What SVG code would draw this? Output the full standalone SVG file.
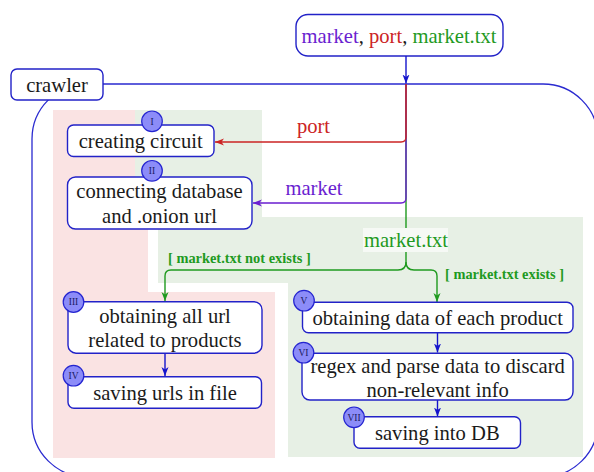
<svg xmlns="http://www.w3.org/2000/svg" width="594" height="472" viewBox="0 0 594 472">
<defs>
<style>
.t{font-family:"Liberation Serif","Times New Roman",serif;font-size:20.6px;fill:#1a1a1a;text-anchor:middle}
.node{fill:#ffffff;stroke:#2222c8;stroke-width:1.4}
.badge{fill:#8c8cf8;stroke:#2424d0;stroke-width:1.2}
.bt{font-family:"Liberation Serif","Times New Roman",serif;font-size:9.5px;fill:#1a1a60;text-anchor:middle}
.cond{font-family:"Liberation Serif","Times New Roman",serif;font-size:14.4px;font-weight:bold;fill:#1f9a1f}
.e{fill:none;stroke-width:1.4}
</style>
<marker id="ab" markerUnits="userSpaceOnUse" markerWidth="10" markerHeight="8" refX="9" refY="3.5" orient="auto"><path d="M0,0 L9,3.5 L0,7 L2.5,3.5 z" fill="#1414cc"/></marker>
<marker id="ar" markerUnits="userSpaceOnUse" markerWidth="10" markerHeight="8" refX="9" refY="3.5" orient="auto"><path d="M0,0 L9,3.5 L0,7 L2.5,3.5 z" fill="#cc2424"/></marker>
<marker id="ap" markerUnits="userSpaceOnUse" markerWidth="10" markerHeight="8" refX="9" refY="3.5" orient="auto"><path d="M0,0 L9,3.5 L0,7 L2.5,3.5 z" fill="#6a1ed0"/></marker>
<marker id="ag" markerUnits="userSpaceOnUse" markerWidth="10" markerHeight="8" refX="9" refY="3.5" orient="auto"><path d="M0,0 L9,3.5 L0,7 L2.5,3.5 z" fill="#1f9a1f"/></marker>
</defs>
<rect width="594" height="472" fill="#ffffff"/>

<g id="regions">
<rect x="53" y="110" width="95" height="348" fill="#fae3e3"/>
<rect x="53" y="292" width="222" height="166" fill="#fae3e3"/>
<rect x="135" y="110" width="127" height="108" fill="#e7f0e5"/>
<path d="M158,217 H583 V457 H288 V283 H158 Z" fill="#e7f0e5"/>
</g>

<g id="crawler">
<rect x="32" y="84" width="566" height="393" rx="55" ry="55" fill="none" stroke="#2a2ad0" stroke-width="1.3"/>
<rect x="11" y="69" width="92" height="31" rx="6" fill="#ffffff" stroke="#2222c8" stroke-width="1.4"/>
<text class="t" x="57" y="92">crawler</text>
</g>

<g id="input">
<rect x="296" y="14.5" width="207" height="41.5" rx="12" fill="#ffffff" stroke="#2222c8" stroke-width="1.4"/>
<text class="t" x="399" y="43"><tspan fill="#6a1ed0">market</tspan>, <tspan fill="#cc2424">port</tspan>, <tspan fill="#1f9a1f">market.txt</tspan></text>
</g>

<g id="connectors">
<path class="e" d="M406,56 V83.5" stroke="#1414cc" marker-end="url(#ab)"/>
<path class="e" d="M406,84 V262 Q406,270 398,270 H171 Q165,270 165,276 V301" stroke="#1f9a1f" marker-end="url(#ag)"/>
<path class="e" d="M406,262 Q406,270 414,270 H431 Q437,270 437,276 V302" stroke="#1f9a1f" marker-end="url(#ag)"/>
<path class="e" d="M406,84 V198 Q406,203 401,203 H253" stroke="#6a1ed0" marker-end="url(#ap)"/>
<path class="e" d="M406,84 V137 Q406,142 401,142 H215" stroke="#cc2424" marker-end="url(#ar)"/>
<path class="e" d="M165,353 V376" stroke="#1414cc" marker-end="url(#ab)"/>
<path class="e" d="M437.5,333 V352.5" stroke="#1414cc" marker-end="url(#ab)"/>
<path class="e" d="M437.5,400 V416.5" stroke="#1414cc" marker-end="url(#ab)"/>
<text x="313.5" y="133.3" font-family="Liberation Serif, Times New Roman, serif" font-size="20.6" fill="#cc2424" text-anchor="middle">port</text>
<text x="314" y="195" font-family="Liberation Serif, Times New Roman, serif" font-size="20.6" fill="#6a1ed0" text-anchor="middle">market</text>
<rect x="363" y="228" width="85" height="24" fill="#f6f9f5"/>
<text x="406" y="246.5" font-family="Liberation Serif, Times New Roman, serif" font-size="20.6" fill="#1f9a1f" text-anchor="middle">market.txt</text>
<text class="cond" x="168" y="263.3">[ market.txt not exists ]</text>
<text class="cond" x="445" y="279">[ market.txt exists ]</text>
</g>

<g id="node1">
<rect class="node" x="67.5" y="125" width="146.5" height="31.5" rx="6"/>
<text class="t" x="140.7" y="148.3">creating circuit</text>
<circle class="badge" cx="152" cy="121.3" r="10.3"/>
<text class="bt" x="152" y="124.6">I</text>
</g>

<g id="node2">
<rect class="node" x="67.5" y="177" width="184.5" height="52" rx="8"/>
<text class="t" x="159.5" y="198.3">connecting database</text>
<text class="t" x="159.5" y="222.7">and .onion url</text>
<circle class="badge" cx="152" cy="170.8" r="10.3"/>
<text class="bt" x="152" y="174.1">II</text>
</g>

<g id="node3">
<rect class="node" x="68" y="301.7" width="194" height="51.5" rx="8"/>
<text class="t" x="165" y="323">obtaining all url</text>
<text class="t" x="165" y="346.7">related to products</text>
<circle class="badge" cx="73.5" cy="302" r="10.3"/>
<text class="bt" x="73.5" y="305.3">III</text>
</g>

<g id="node4">
<rect class="node" x="68" y="376.7" width="193.5" height="31.5" rx="6"/>
<text class="t" x="165" y="399.5">saving urls in file</text>
<circle class="badge" cx="73.5" cy="375.7" r="10.3"/>
<text class="bt" x="73.5" y="379">IV</text>
</g>

<g id="node5">
<rect class="node" x="302.5" y="302.3" width="270.5" height="30.5" rx="6"/>
<text class="t" x="437.7" y="325">obtaining data of each product</text>
<circle class="badge" cx="304" cy="300.7" r="10.3"/>
<text class="bt" x="304" y="304">V</text>
</g>

<g id="node6">
<rect class="node" x="302" y="353.3" width="271" height="46.7" rx="8"/>
<text class="t" x="437.7" y="372.7">regex and parse data to discard</text>
<text class="t" x="437.7" y="397.3">non-relevant info</text>
<circle class="badge" cx="303.5" cy="352.7" r="10.3"/>
<text class="bt" x="303.5" y="356">VI</text>
</g>

<g id="node7">
<rect class="node" x="354" y="416.7" width="166.5" height="31.5" rx="6"/>
<text class="t" x="437.3" y="440">saving into DB</text>
<circle class="badge" cx="354" cy="417.3" r="10.3"/>
<text class="bt" x="354" y="420.6">VII</text>
</g>
</svg>
